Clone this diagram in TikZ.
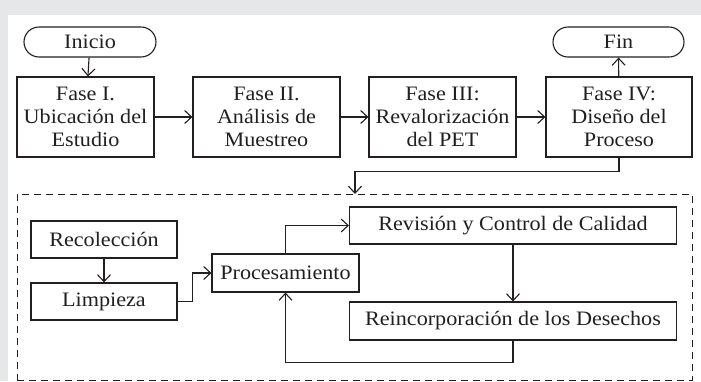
\documentclass[tikz,border=0pt]{standalone}
\usepackage{fontspec}
\setmainfont{Liberation Serif}[FakeStretch=1.08]
\usepackage{tikz}
\usetikzlibrary{arrows.meta}
\definecolor{fondo}{HTML}{E6E7E8}
\definecolor{tinta}{HTML}{231F20}

\begin{document}
\begin{tikzpicture}[x=1pt,y=-1pt,
	caja/.style={draw=tinta,text=tinta,line width=1.1pt,align=center,inner sep=0pt,
		font=\fontsize{20.5}{22.8}\selectfont},
	terminal/.style={caja,rounded corners=15pt,minimum height=30pt},
	flecha/.style={draw=tinta,line width=1.1pt,-{Straight Barb[length=7pt,width=13pt]}},
	linea/.style={draw=tinta,line width=1.1pt}]
		\useasboundingbox (0,0) rectangle (701,381);
		\fill[fondo] (0,0) rectangle (701,381);
		\fill[white] (8,15) rectangle (701,381);
		
		\node[terminal,minimum width=132pt] (inicio) at (90,42) {Inicio};
		\node[terminal,minimum width=131pt] (fin) at (618.5,42) {Fin};
		
		\node[caja,minimum width=137pt,minimum height=80pt] (fase1) at (85.5,117) 
		{Fase I.\\Ubicación del\\Estudio};
		\node[caja,minimum width=147pt,minimum height=80pt] (fase2) at (266.5,117) 
		{Fase II.\\Análisis de\\Muestreo};
		\node[caja,minimum width=147pt,minimum height=80pt] (fase3) at (442.5,117) 
		{Fase III:\\Revalorización\\del PET};
		\node[caja,minimum width=146pt,minimum height=80pt] (fase4) at (619,117) 
		{Fase IV:\\Diseño del\\Proceso};
		
		\draw[flecha] (inicio) -- (fase1);
		\draw[flecha] (fase1) -- (fase2);
		\draw[flecha] (fase2) -- (fase3);
		\draw[flecha] (fase3) -- (fase4);
		\draw[flecha] (fase4) -- (fin);
		
		\node[draw=tinta,line width=1pt,dash pattern=on 7pt off 5pt,
		minimum width=675pt,minimum height=186pt,inner sep=0pt] (proceso) at (354.5,287) {};
		\coordinate (entrada) at (355,194);
		\draw[flecha] (fase4.south) -- ++(0,14) -| (entrada);
		
		\node[caja,minimum width=146pt,minimum height=37pt] (recoleccion) at (104,239.5) 
		{Recolección};
		\node[caja,minimum width=146pt,minimum height=37pt] (limpieza) at (104,301.5) 
		{Limpieza};
		\node[caja,minimum width=147pt,minimum height=38pt] (procesamiento) at (285.5,273) 
		{Procesamiento};
		\node[caja,minimum width=327pt,minimum height=37pt] (revision) at (513,225.5) 
		{Revisión y Control de Calidad};
		\node[caja,minimum width=327pt,minimum height=38pt] (reincorporacion) at (513,321) 
		{Reincorporación de los Desechos};
		
		\draw[flecha] (recoleccion) -- (limpieza);
		\draw[flecha] (limpieza.east) -- ++(15,0) |- (procesamiento.west);
		\draw[flecha] (procesamiento.north) |- (revision.west);
		\draw[flecha] (revision) -- (reincorporacion);
		\draw[flecha] (reincorporacion.south) -- ++(0,22) -| (procesamiento.south);
	\end{tikzpicture}
\end{document}
